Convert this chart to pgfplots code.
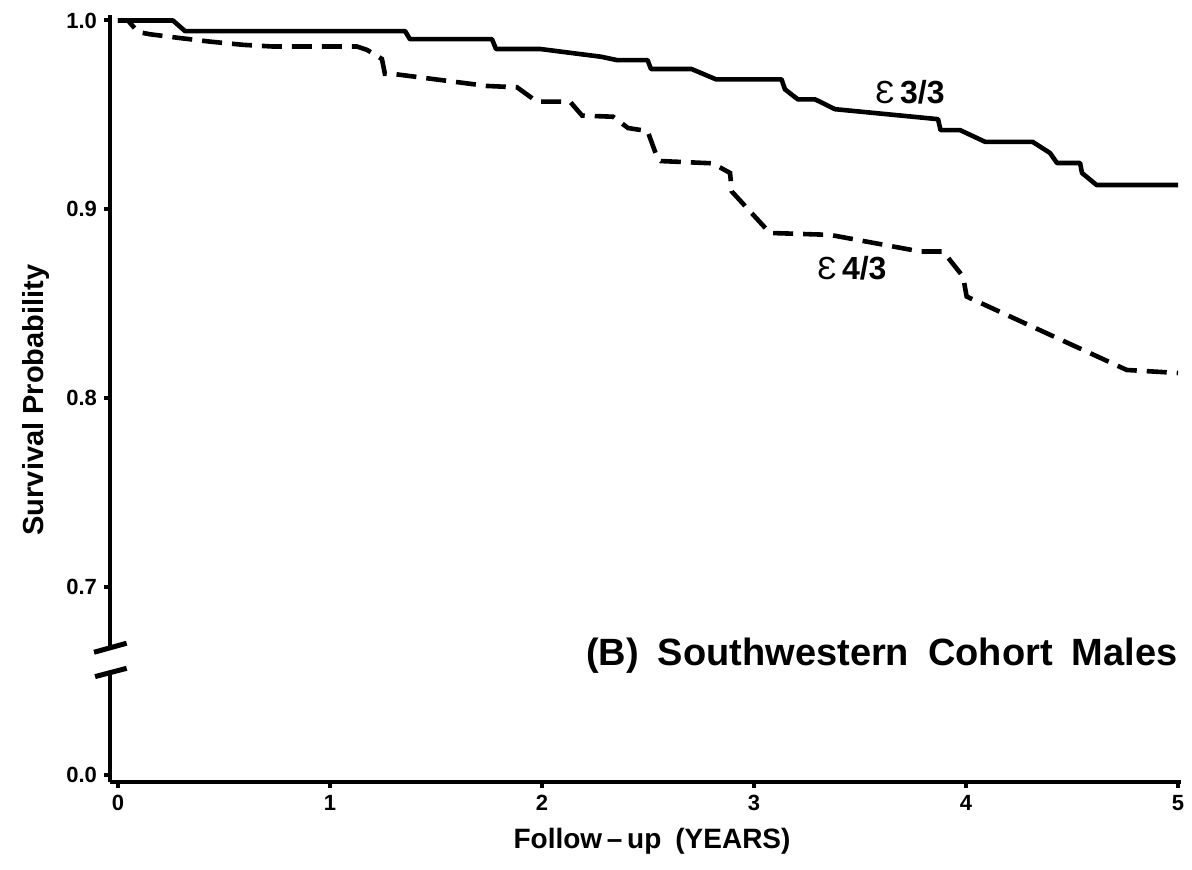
\documentclass[border=0pt]{standalone}
\usepackage{fontspec}
\setmainfont{Liberation Sans}
\usepackage{pgfplots}
\usepackage{pgfplotstable}
\pgfplotsset{compat=1.18}

% Kaplan-Meier curves, years vs survival (0.0 is drawn at the 0.6 position, axis broken)
\pgfplotstableread{
t s
0.000 1.0000
0.259 1.0000
0.316 0.9944
1.354 0.9944
1.377 0.9901
1.764 0.9901
1.783 0.9849
1.991 0.9849
2.278 0.9808
2.354 0.9790
2.498 0.9790
2.514 0.9743
2.705 0.9743
2.821 0.9688
3.130 0.9688
3.146 0.9635
3.207 0.9582
3.288 0.9582
3.382 0.9530
3.868 0.9477
3.880 0.9419
3.972 0.9419
4.090 0.9357
4.314 0.9357
4.396 0.9298
4.429 0.9245
4.538 0.9245
4.547 0.9192
4.616 0.9128
5.000 0.9128
}\ethreethree

\pgfplotstableread{
t s
0.000 1.0000
0.047 1.0000
0.094 0.9939
0.151 0.9927
0.292 0.9907
0.434 0.9888
0.590 0.9871
0.731 0.9862
1.127 0.9862
1.175 0.9844
1.245 0.9796
1.259 0.9717
1.297 0.9717
1.741 0.9653
1.882 0.9646
1.976 0.9570
2.132 0.9570
2.189 0.9496
2.335 0.9490
2.406 0.9430
2.498 0.9414
2.542 0.9278
2.561 0.9255
2.805 0.9243
2.887 0.9192
2.895 0.9094
3.075 0.8874
3.358 0.8864
3.783 0.8776
3.892 0.8776
3.986 0.8643
4.003 0.8537
4.758 0.8148
5.000 0.8132
}\efourthree

\newcommand{\eps}{{\mdseries Ɛ}}

\begin{document}
\begin{tikzpicture}
\begin{axis}[
    x=106bp, y=943.5bp,
    xmin=-0.0377, xmax=5.014,
    ymin=0.5963, ymax=1.0029,
    axis lines=left,
    axis line style={-, line width=2.2bp},
    every outer x axis line/.append style={-},
    every outer y axis line/.append style={-},
    tick align=outside,
    major tick length=3bp,
    tick style={line width=2bp, black},
    xtick={0,1,2,3,4,5},
    xticklabels={0,1,2,3,4,5},
    ytick={0.6,0.7,0.8,0.9,1.0},
    yticklabels={0.0,0.7,0.8,0.9,1.0},
    ticklabel style={font=\fontsize{11bp}{13bp}\selectfont\bfseries},
    /pgf/number format/assume math mode=true,
    clip=false,
]
\addplot[black, line width=2.3bp, line join=round] table[x=t, y=s] {\ethreethree};
\addplot[black, line width=2.3bp, dash pattern=on 10bp off 5bp] table[x=t, y=s] {\efourthree};

% axis break
\fill[white] (axis cs:-0.06,0.6548) rectangle (axis cs:-0.015,0.668);
\draw[line width=2.5bp] (axis cs:-0.113,0.6652) -- (axis cs:0.041,0.6700);
\draw[line width=2.5bp] (axis cs:-0.108,0.6523) -- (axis cs:0.041,0.6567);

\node[font=\fontsize{16bp}{18bp}\selectfont\bfseries] at (axis cs:3.736,0.9621) {\eps\,3/3};
\node[font=\fontsize{16bp}{18bp}\selectfont\bfseries] at (axis cs:3.462,0.8688) {\eps\,4/3};
\node[anchor=east, font=\fontsize{19bp}{22bp}\selectfont\bfseries] at (axis cs:5.03,0.6632)
    {(B)\enspace Southwestern\enspace Cohort\enspace Males};
\node[rotate=90, font=\fontsize{14.5bp}{16bp}\selectfont\bfseries] at (axis cs:-0.387,0.7989)
    {Survival Probability};
\node[font=\fontsize{14bp}{16bp}\selectfont\bfseries] at (axis cs:2.519,0.5652)
    {Follow\,–\,up\enspace (YEARS)};

% page = reference frame
\path (axis cs:-0.5566,0.5503) rectangle (axis cs:5.066,1.01086);
\end{axis}
\end{tikzpicture}
\end{document}
